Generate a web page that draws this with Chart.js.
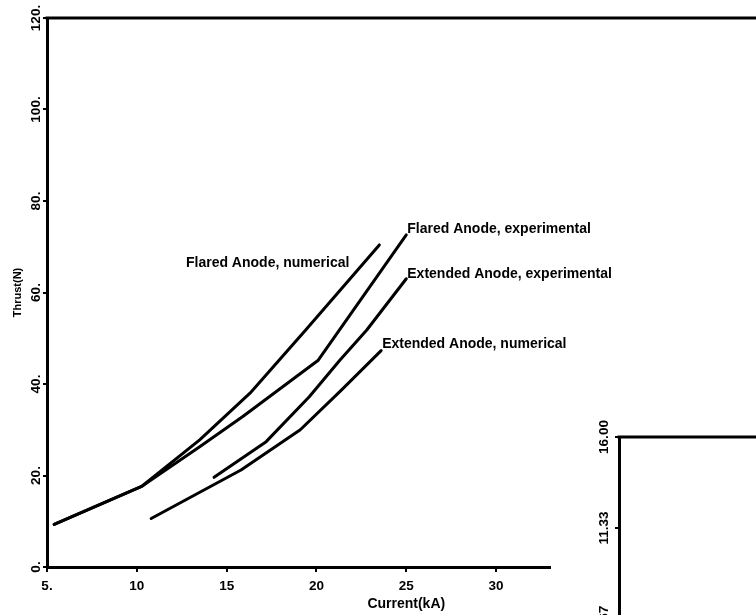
<!DOCTYPE html>
<html lang="en">
<head>
<meta charset="UTF-8">
<title>Thrust vs Current</title>
<script src="https://cdn.jsdelivr.net/npm/chart.js@4"></script>
<style>
  html, body { margin: 0; padding: 0; background: #fff; overflow: hidden; }
  #wrap { position: relative; width: 756px; height: 615px; overflow: hidden; background: #fff; }
  #main { position: absolute; left: 0; top: 0; }
  #inset { position: absolute; left: 560px; top: 400px; }
</style>
</head>
<body>
<div id="wrap">
  <canvas id="main" width="756" height="615"></canvas>
  <canvas id="inset" width="196" height="330"></canvas>
</div>

<script>
// current (kA) / thrust (N) for each curve
const flaredNumCurrent = [5.4, 10.3, 13.5, 16.3, 19.4, 23.5];
const flaredNumThrust  = [9.3, 17.7, 27.8, 38.0, 51.8, 70.4];

const flaredExpCurrent = [5.4, 10.3, 13.5, 15.9, 20.1, 25.0];
const flaredExpThrust  = [9.3, 17.7, 26.3, 32.9, 45.2, 72.6];

const extExpCurrent = [14.3, 17.2, 19.6, 21.3, 22.8, 25.0];
const extExpThrust  = [19.6, 27.4, 37.2, 45.2, 51.8, 63.0];

const extNumCurrent = [10.8, 15.8, 19.1, 21.4, 23.6];
const extNumThrust  = [10.6, 21.2, 30.0, 38.7, 47.3];

const xTicks = [5, 10, 15, 20, 25, 30];
const xTickLabels = ['5.', '10', '15', '20', '25', '30'];
const yTicks = [0, 20, 40, 60, 80, 100, 120];
const yTickLabels = ['0.', '20.', '40.', '60.', '80.', '100.', '120.'];

// second plot, only its corner shows
const insetTicks = [16.00, 11.33, 6.67, 2.00];
const insetTickLabels = ['16.00', '11.33', '6.67', '2.00'];

const FONT = '"Liberation Sans", Arial, Helvetica, sans-serif';

function pts(xs, ys) {
  return xs.map((x, i) => ({ x: x, y: ys[i] }));
}

function curve(label, xs, ys, dx, dy, align) {
  return {
    label: label,
    data: pts(xs, ys),
    borderColor: '#000',
    borderWidth: 3,
    pointRadius: 0,
    tension: 0,
    fill: false,
    borderCapStyle: 'round',
    borderJoinStyle: 'round',
    tagDx: dx, tagDy: dy, tagAlign: align
  };
}

// frame line across the top of the plot
const topRule = {
  id: 'topRule',
  afterDraw(chart) {
    const ctx = chart.ctx, a = chart.chartArea;
    ctx.save();
    ctx.strokeStyle = '#000';
    ctx.lineWidth = 3;
    ctx.beginPath();
    ctx.moveTo(a.left - 1.5, a.top);
    ctx.lineTo(chart.width, a.top);
    ctx.stroke();
    ctx.restore();
  }
};

// curve names next to the line ends, plus the x axis title
const tags = {
  id: 'tags',
  afterDraw(chart) {
    const ctx = chart.ctx;
    ctx.save();
    ctx.fillStyle = '#000';
    ctx.font = 'bold 14px ' + FONT;
    ctx.textBaseline = 'alphabetic';
    chart.data.datasets.forEach((ds, i) => {
      const pts = chart.getDatasetMeta(i).data;
      const end = pts[pts.length - 1];
      ctx.textAlign = ds.tagAlign;
      ctx.fillText(ds.label, end.x + ds.tagDx, end.y + ds.tagDy);
    });
    const xs = chart.scales.x;
    ctx.textAlign = 'center';
    ctx.textBaseline = 'middle';
    ctx.fillText('Current(kA)', xs.getPixelForValue(25), 604);
    ctx.restore();
  }
};

new Chart(document.getElementById('main'), {
  type: 'line',
  data: {
    datasets: [
      curve('Flared Anode, numerical', flaredNumCurrent, flaredNumThrust, -30, 22, 'right'),
      curve('Flared Anode, experimental', flaredExpCurrent, flaredExpThrust, 1, -2, 'left'),
      curve('Extended Anode, experimental', extExpCurrent, extExpThrust, 1, -1, 'left'),
      curve('Extended Anode, numerical', extNumCurrent, extNumThrust, 1, -3, 'left')
    ]
  },
  options: {
    responsive: false,
    animation: false,
    events: [],
    layout: { padding: { left: 0, right: 206, top: 18, bottom: 0 } },
    plugins: { legend: { display: false }, tooltip: { enabled: false } },
    scales: {
      x: {
        type: 'linear',
        min: 5,
        max: 33,
        afterBuildTicks: s => { s.ticks = xTicks.map(v => ({ value: v })); },
        afterFit: s => { s.height = 48; },
        grid: { drawOnChartArea: false, drawTicks: true, tickLength: 5, color: '#000', lineWidth: 2 },
        border: { display: true, color: '#000', width: 3 },
        ticks: {
          color: '#000',
          padding: 6,
          maxRotation: 0,
          font: { family: FONT, size: 13.5, weight: 'bold' },
          callback: (v, i) => xTickLabels[i]
        }
      },
      y: {
        type: 'linear',
        min: 0,
        max: 120,
        afterBuildTicks: s => { s.ticks = yTicks.map(v => ({ value: v })); },
        afterFit: s => { s.width = 47; },
        grid: { drawOnChartArea: false, drawTicks: true, tickLength: 4, color: '#000', lineWidth: 2 },
        border: { display: true, color: '#000', width: 3 },
        ticks: {
          color: '#000',
          minRotation: 90,
          maxRotation: 90,
          crossAlign: 'center',
          padding: -6,
          font: { family: FONT, size: 13.5, weight: 'bold' },
          callback: (v, i) => yTickLabels[i]
        },
        title: {
          display: true,
          text: 'Thrust(N)',
          color: '#000',
          font: { family: FONT, size: 11, weight: 'bold' },
          padding: { top: 11, bottom: 0 }
        }
      }
    }
  },
  plugins: [topRule, tags]
});

new Chart(document.getElementById('inset'), {
  type: 'scatter',
  data: { datasets: [] },
  options: {
    responsive: false,
    animation: false,
    events: [],
    layout: { padding: { left: 0, right: 0, top: 37, bottom: 20 } },
    plugins: { legend: { display: false }, tooltip: { enabled: false } },
    scales: {
      x: { display: false, min: 0, max: 1 },
      y: {
        type: 'linear',
        min: 2,
        max: 16,
        afterBuildTicks: s => { s.ticks = insetTicks.map(v => ({ value: v })); },
        afterFit: s => { s.width = 59; },
        grid: { drawOnChartArea: false, drawTicks: true, tickLength: 4, color: '#000', lineWidth: 2 },
        border: { display: true, color: '#000', width: 3 },
        ticks: {
          color: '#000',
          minRotation: 90,
          maxRotation: 90,
          crossAlign: 'center',
          padding: -6,
          font: { family: FONT, size: 13.5, weight: 'bold' },
          callback: (v, i) => insetTickLabels[i]
        }
      }
    }
  },
  plugins: [topRule]
});
</script>
</body>
</html>
